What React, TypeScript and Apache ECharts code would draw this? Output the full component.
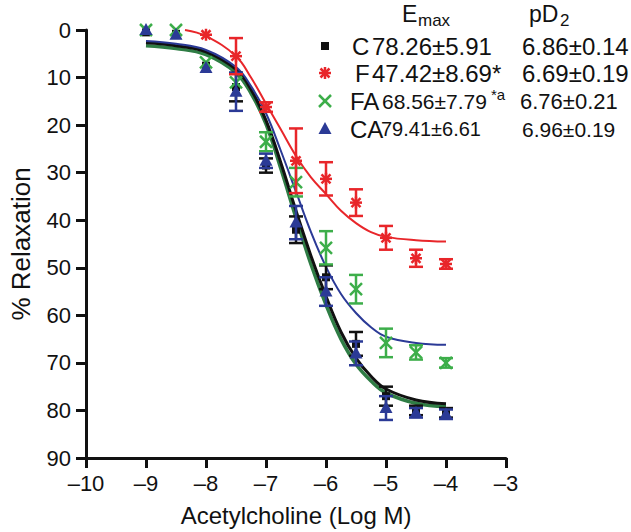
import React, { useEffect, useRef } from "react";
import * as echarts from "echarts";

// Concentrations (log M) of measured points
const doses = [-9, -8.5, -8, -7.5, -7, -6.5, -6, -5.5, -5, -4.5, -4];

// Group C (black squares)
const cMean = [0.5, 0.8, 7.5, 12, 28.5, 42, 52, 66, 77, 80, 80.5];
const cErr = [0, 0, 0, 3, 1.5, 2.8, 2.5, 2.5, 2, 1, 1];
// Group F (red asterisks)
const fDoses = [-8, -7.5, -7, -6.5, -6, -5.5, -5, -4.5, -4];
const fMean = [1, 5.5, 16.2, 27.5, 31.3, 36.3, 43.7, 48, 49.2];
const fErr = [0, 3.8, 1, 6.8, 3.5, 2.8, 2.5, 1.8, 1];
// Group FA (green crosses)
const faMean = [0, 0, 6.8, 11, 23.5, 32, 45.8, 54.5, 65.8, 67.8, 70];
const faErr = [0, 0, 0, 0, 2, 3, 3.5, 3, 3, 1.5, 1];
// Group CA (blue triangles)
const caMean = [0, 1, 8, 13, 27.5, 40.5, 55, 68, 79.5, 80.5, 80.8];
const caErr = [0, 0, 0, 4, 1.5, 3.5, 3, 2.5, 2.5, 1, 1];

// Fitted curves
const curveX = [-9, -8.5, -8, -7.5, -7.25, -7, -6.75, -6.5, -6.25, -6, -5.75, -5.5, -5.25, -5, -4.5, -4];
const curveBlack = [2.7, 3.3, 4.6, 8.3, 12.5, 19, 28, 38, 47.5, 56, 63.5, 69, 72.8, 75.5, 77.8, 78.6];
const curveGreen = [3.3, 3.9, 5.2, 9.0, 13.3, 19.8, 29.3, 39.5, 49.3, 57.8, 65, 70.3, 73.8, 76.3, 78.5, 79.2];
const curveBlue = [2.3, 2.9, 4.2, 7.8, 11.8, 17.5, 25.5, 34, 42.5, 49.8, 55.5, 59.5, 62.5, 64.5, 65.8, 66.2];
const curveRedX = [-8.35, -8, -7.5, -7.25, -7, -6.75, -6.5, -6.25, -6, -5.75, -5.5, -5.25, -5, -4.5, -4];
const curveRed = [0, 1.3, 5.5, 10, 15.5, 21, 26.5, 31, 34.5, 38, 40.6, 42.5, 43.5, 44.2, 44.5];

const xTicks = [-10, -9, -8, -7, -6, -5, -4, -3];
const yTicks = [0, 10, 20, 30, 40, 50, 60, 70, 80, 90];

const RED = "#e8262a";
const GREEN = "#3dae4a";
const BLUE = "#2b3a96";
const BLACK = "#111111";
const DARKGREEN = "#2f7d45";
const FONT = "Liberation Sans, Arial, sans-serif";

type Marker = "square" | "star" | "cross" | "triangle";

function markerShapes(kind: Marker, cx: number, cy: number, color: string): any[] {
  const s = 6;
  if (kind === "square") {
    return [{ type: "rect", shape: { x: cx - 4, y: cy - 4, width: 8, height: 8 }, style: { fill: color } }];
  }
  if (kind === "triangle") {
    return [{ type: "polygon", shape: { points: [[cx, cy - 7], [cx - 6.5, cy + 5], [cx + 6.5, cy + 5]] }, style: { fill: color } }];
  }
  if (kind === "cross") {
    return [
      { type: "line", shape: { x1: cx - s, y1: cy - s, x2: cx + s, y2: cy + s }, style: { stroke: color, lineWidth: 2.5 } },
      { type: "line", shape: { x1: cx - s, y1: cy + s, x2: cx + s, y2: cy - s }, style: { stroke: color, lineWidth: 2.5 } },
    ];
  }
  const d = 4.5;
  return [
    { type: "line", shape: { x1: cx, y1: cy - s, x2: cx, y2: cy + s }, style: { stroke: color, lineWidth: 2.5 } },
    { type: "line", shape: { x1: cx - s, y1: cy, x2: cx + s, y2: cy }, style: { stroke: color, lineWidth: 2.5 } },
    { type: "line", shape: { x1: cx - d, y1: cy - d, x2: cx + d, y2: cy + d }, style: { stroke: color, lineWidth: 2.5 } },
    { type: "line", shape: { x1: cx - d, y1: cy + d, x2: cx + d, y2: cy - d }, style: { stroke: color, lineWidth: 2.5 } },
  ];
}

function pointSeries(name: string, xs: number[], ys: number[], errs: number[], color: string, kind: Marker, z: number) {
  return {
    type: "custom",
    name,
    z,
    data: xs.map((x, i) => [x, ys[i], errs[i]]),
    renderItem: (_params: any, api: any) => {
      const x = api.value(0);
      const y = api.value(1);
      const e = api.value(2);
      const p = api.coord([x, y]);
      const children: any[] = [];
      if (e > 0) {
        const t = api.coord([x, y - e]);
        const b = api.coord([x, y + e]);
        const cap = 7;
        const st = { stroke: color, lineWidth: 2.5 };
        children.push({ type: "line", shape: { x1: p[0], y1: t[1], x2: p[0], y2: b[1] }, style: st });
        children.push({ type: "line", shape: { x1: p[0] - cap, y1: t[1], x2: p[0] + cap, y2: t[1] }, style: st });
        children.push({ type: "line", shape: { x1: p[0] - cap, y1: b[1], x2: p[0] + cap, y2: b[1] }, style: st });
      }
      children.push(...markerShapes(kind, p[0], p[1], color));
      return { type: "group", children };
    },
  };
}

function curveSeries(xs: number[], ys: number[], color: string, width: number, z: number) {
  return {
    type: "line",
    data: xs.map((x, i) => [x, ys[i]]),
    smooth: 0.4,
    showSymbol: false,
    symbol: "none",
    z,
    lineStyle: { color, width },
  };
}

function txt(x: number, y: number, text: string, size: number, extra: any = {}) {
  return {
    type: "text",
    x,
    y,
    style: { text, font: `${size}px ${FONT}`, fill: "#111", textVerticalAlign: "middle", ...extra },
  };
}

export default function App() {
  const ref = useRef<HTMLDivElement>(null);
  useEffect(() => {
    if (!ref.current) return;
    const chart = echarts.init(ref.current, undefined, { renderer: "svg" });
    const legendX = 325;
    const rows: [Marker, string, number][] = [
      ["square", BLACK, 46],
      ["star", RED, 73],
      ["cross", GREEN, 101],
      ["triangle", BLUE, 129],
    ] as any;
    const legendMarkers = rows.map(([k, c, y]) => ({
      type: "group",
      children: markerShapes(k as Marker, legendX, y as number, c as string),
    }));
    chart.setOption({
      animation: false,
      grid: { left: 77, top: 30, right: 125, bottom: 74, containLabel: false },
      xAxis: {
        type: "value",
        min: xTicks[0],
        max: xTicks[xTicks.length - 1],
        interval: 1,
        name: "Acetylcholine (Log M)",
        nameLocation: "middle",
        nameGap: 45,
        nameTextStyle: { fontFamily: FONT, fontSize: 24, color: "#111" },
        splitLine: { show: false },
        axisLine: { onZero: false, lineStyle: { color: "#111", width: 3 } },
        axisTick: { length: 10, lineStyle: { color: "#111", width: 3 } },
        axisLabel: {
          fontFamily: FONT,
          fontSize: 22,
          color: "#111",
          margin: 14,
          formatter: (v: number) => String(v).replace("-", "\u2013"),
        },
      },
      yAxis: {
        type: "value",
        inverse: true,
        min: yTicks[0],
        max: yTicks[yTicks.length - 1],
        interval: 10,
        name: "% Relaxation",
        nameLocation: "middle",
        nameRotate: 90,
        nameGap: 52,
        nameTextStyle: { fontFamily: FONT, fontSize: 26, color: "#111" },
        splitLine: { show: false },
        axisLine: { onZero: false, lineStyle: { color: "#111", width: 3 } },
        axisTick: { length: 10, lineStyle: { color: "#111", width: 3 } },
        axisLabel: { fontFamily: FONT, fontSize: 22, color: "#111", margin: 15 },
      },
      series: [
        curveSeries(curveX, curveGreen, DARKGREEN, 3.5, 2),
        curveSeries(curveX, curveBlack, BLACK, 3, 3),
        curveSeries(curveX, curveBlue, BLUE, 2, 3),
        curveSeries(curveRedX, curveRed, RED, 2, 3),
        pointSeries("C", doses, cMean, cErr, BLACK, "square", 4),
        pointSeries("FA", doses, faMean, faErr, GREEN, "cross", 5),
        pointSeries("CA", doses, caMean, caErr, BLUE, "triangle", 6),
        pointSeries("F", fDoses, fMean, fErr, RED, "star", 7),
      ],
      graphic: [
        ...legendMarkers,
        txt(402, 14, "E", 23),
        txt(418, 20, "max", 17),
        txt(529, 14, "pD", 23),
        txt(560, 20, "2", 17),
        txt(352, 46, "C", 24),
        txt(372, 46, "78.26±5.91", 24),
        txt(522, 46, "6.86±0.14", 24),
        txt(355, 73, "F", 24),
        txt(372, 73, "47.42±8.69*", 24),
        txt(522, 73, "6.69±0.19", 24),
        txt(350, 101, "FA", 24),
        txt(382, 101, "68.56±7.79", 21),
        txt(491, 94, "*a", 15),
        txt(520, 101, "6.76±0.21", 22),
        txt(350, 129, "CA", 24),
        txt(381, 129, "79.41±6.61", 20),
        txt(522, 129, "6.96±0.19", 21),
      ],
    });
    return () => chart.dispose();
  }, []);
  return <div ref={ref} style={{ position: "absolute", left: 0, top: 0, width: 631, height: 532 }} />;
}
